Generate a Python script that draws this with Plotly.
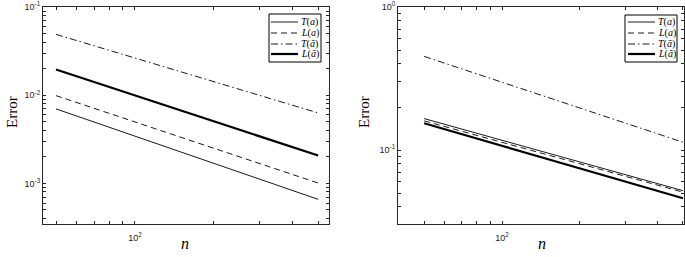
import numpy as np
import plotly.graph_objects as go

W, H = 685, 257

# ---- data ----
n_left = [50, 500]
T_a_left = [0.0070, 0.00066]
L_a_left = [0.0099, 0.00101]
T_at_left = [0.049, 0.0063]
L_at_left = [0.0196, 0.00207]

n_right = [50, 500]
T_a_right = [0.166, 0.0520]
L_a_right = [0.160, 0.0508]
T_at_right = [0.452, 0.1135]
L_at_right = [0.154, 0.0460]

labels = ["<i>T</i>(<i>a</i>)", "<i>L</i>(<i>a</i>)", "<i>T</i>(<i>ã</i>)", "<i>L</i>(<i>ã</i>)"]
styles = [dict(dash="solid", width=0.9), dict(dash="6px,4px", width=0.9),
          dict(dash="7px,3px,1.5px,3px", width=0.9), dict(dash="solid", width=2.2)]

x_minor = [50, 60, 70, 80, 90, 100, 200, 300, 400, 500]
x_text = ["" if v != 100 else "10<sup>2</sup>" for v in x_minor]

yl_vals = [4e-4, 5e-4, 6e-4, 7e-4, 8e-4, 9e-4, 1e-3] + [k * 1e-3 for k in range(2, 10)] + [1e-2] + [k * 1e-2 for k in range(2, 10)] + [1e-1]
yl_text = ["10<sup>-3</sup>" if v == 1e-3 else "10<sup>-2</sup>" if v == 1e-2 else "10<sup>-1</sup>" if v == 1e-1 else "" for v in yl_vals]
yr_vals = [k * 1e-2 for k in range(4, 10)] + [1e-1] + [k * 1e-1 for k in range(2, 10)] + [1.0]
yr_text = ["10<sup>-1</sup>" if v == 1e-1 else "10<sup>0</sup>" if v == 1.0 else "" for v in yr_vals]

fig = go.Figure()
series_left = [T_a_left, L_a_left, T_at_left, L_at_left]
series_right = [T_a_right, L_a_right, T_at_right, L_at_right]
for vals, lab, st in zip(series_left, labels, styles):
    fig.add_trace(go.Scatter(x=n_left, y=vals, mode="lines", name=lab, showlegend=False,
                             line=dict(color="black", **st), xaxis="x", yaxis="y"))
for vals, lab, st in zip(series_right, labels, styles):
    fig.add_trace(go.Scatter(x=n_right, y=vals, mode="lines", name=lab, showlegend=False,
                             line=dict(color="black", **st), xaxis="x2", yaxis="y2"))

def px(x): return x / W
def py(y): return 1 - y / H

axcol = "#262626"
tickfont = dict(family="Liberation Sans, Arial", size=9, color=axcol)
common = dict(type="log", showgrid=False, zeroline=False, showline=True, linecolor=axcol, linewidth=1,
              mirror="ticks", ticks="inside", ticklen=3, tickcolor=axcol, tickwidth=0.8,
              tickmode="array", tickfont=tickfont, automargin=False, ticklabeloverflow="allow")

top, bot = 7, 224
fig.update_layout(
    width=W, height=H, margin=dict(l=0, r=0, t=0, b=0), paper_bgcolor="white", plot_bgcolor="white",
    xaxis=dict(domain=[px(43), px(329)], range=[np.log10(44.6), np.log10(550)], tickvals=x_minor, ticktext=x_text,
               anchor="y", ticklabelstandoff=5, **common),
    yaxis=dict(domain=[py(bot), py(top)], range=[-3.46, -0.9995], tickvals=yl_vals, ticktext=yl_text, anchor="x", **common),
    xaxis2=dict(domain=[px(398), px(684)], range=[1.598, 2.703], tickvals=x_minor, ticktext=x_text,
                anchor="y2", ticklabelstandoff=5, **common),
    yaxis2=dict(domain=[py(bot), py(top)], range=[-1.517, 0.0005], tickvals=yr_vals, ticktext=yr_text, anchor="x2", **common),
)

serif = "Liberation Serif, Times New Roman, serif"
ann = []
shapes = []
for xc in (12, 364):
    ann.append(dict(text="Error", x=px(xc), y=py(112), xref="paper", yref="paper", showarrow=False,
                    textangle=-90, font=dict(family=serif, size=15, color="black"), xanchor="center", yanchor="middle"))
for xc in (185, 542):
    ann.append(dict(text="<i>n</i>", x=px(xc), y=py(243), xref="paper", yref="paper", showarrow=False,
                    font=dict(family=serif, size=16, color="black"), xanchor="center", yanchor="middle"))

# manual legends (compact, MATLAB style)
for (bx0, bx1, by0, by1, lx0, lx1) in [(269, 321, 14, 62, 271, 298), (625, 677, 15, 62, 628, 655)]:
    shapes.append(dict(type="rect", xref="paper", yref="paper", x0=px(bx0), x1=px(bx1), y0=py(by1), y1=py(by0),
                       line=dict(color="black", width=1), fillcolor="white", layer="above"))
    rows = [22, 33, 44, 54]
    for r, lab, st in zip(rows, labels, styles):
        shapes.append(dict(type="line", xref="paper", yref="paper", x0=px(lx0), x1=px(lx1), y0=py(r), y1=py(r),
                           line=dict(color="black", width=st["width"], dash=st["dash"]), layer="above"))
        ann.append(dict(text=lab, x=px(lx1 + 0.5), y=py(r), xref="paper", yref="paper", showarrow=False,
                        xanchor="left", yanchor="middle", font=dict(family=serif, size=10, color="black")))

fig.update_layout(annotations=ann, shapes=shapes)
fig.write_html("out.html", config={"displayModeBar": False},
               post_script="document.body.style.margin='0px';document.body.style.overflow='hidden';")
